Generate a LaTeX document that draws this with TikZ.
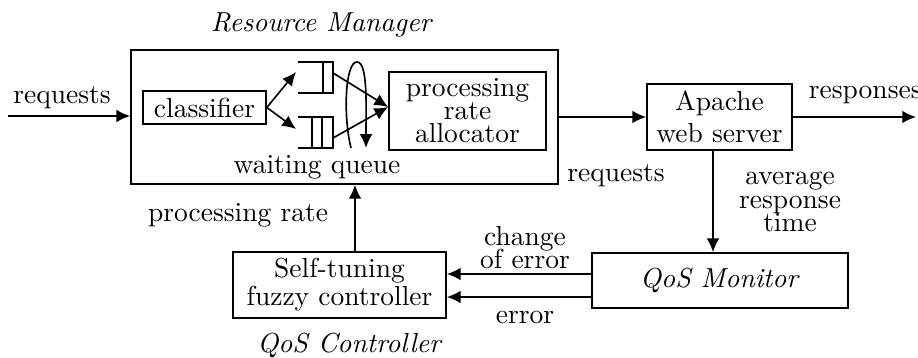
\documentclass[tikz,border=0pt]{standalone}
\usetikzlibrary{arrows.meta}
\newcommand{\pxu}{0.3636pt}
\begin{document}
\begin{tikzpicture}[x=0.3636pt,y=0.3636pt,
  line width=0.6pt,
  arr/.style={-{Latex[length=5pt,width=4.6pt]}},
  blk/.style={draw,rectangle,inner sep=0pt,align=center},
  txt/.style={inner sep=0pt,align=center}]
\useasboundingbox (0,0) rectangle (918,358);

% Resource manager and its parts
\node[blk,minimum width=427*\pxu,minimum height=134*\pxu] (rm) at (344.5,241) {};
\node[txt] (rmlabel) at (322,333) {\textit{Resource Manager}};
\node[blk,minimum width=123*\pxu,minimum height=33*\pxu] (cls) at (204.5,250.5) {classifier};
\node[blk,minimum width=157*\pxu,minimum height=78*\pxu] (alloc) at (467.5,247)
  {processing\\[-3.6pt]rate\\[-3.6pt]allocator};
\node[txt] (wq) at (317,191) {waiting queue};

% two waiting queues
\draw (298,296) -- (333,296) -- (333,265) -- (298,265);
\draw (323,296) -- (323,265);
\draw (298,241) -- (333,241) -- (333,210) -- (298,210);
\draw (312,241) -- (312,210);
\draw (322,241) -- (322,210);
\coordinate (q1in) at (296,286);
\coordinate (q2in) at (296,229);
\coordinate (q1out) at (333,285);
\coordinate (q2out) at (333,220);

\draw[arr] (cls.east) -- (q1in);
\draw[arr] (cls.east) -- (q2in);
\draw[arr] (q1out) -- ([yshift=4*\pxu]alloc.west);
\draw[arr] (q2out) -- ([yshift=4*\pxu]alloc.west);

% round-robin scheduler
\draw[arr] (351,210) .. controls (343,242) and (345,296) .. (357,296)
  .. controls (368,296) and (366,252) .. (366,210);

% web server, monitor and controller
\node[blk,minimum width=145*\pxu,minimum height=66*\pxu] (apache) at (719.5,241)
  {Apache\\[-0.5pt]web server};
\node[blk,minimum width=256*\pxu,minimum height=55*\pxu] (mon) at (720,77.5)
  {\raisebox{2pt}{\textit{QoS Monitor}}};
\node[blk,minimum width=213*\pxu,minimum height=66*\pxu] (ctl) at (339.5,73)
  {Self-tuning\\[-1.8pt]fuzzy controller};
\node[txt] (ctllabel) at (350,13) {\textit{QoS Controller}};

% connectors
\coordinate (in) at (8,242);
\coordinate (out) at (916,241);
\draw[arr] (in) -- (in -| rm.west);
\draw[arr] (apache.west -| rm.east) -- (apache.west);
\draw[arr] (apache.east) -- (out);
\draw[arr] ([xshift=-6.5*\pxu]apache.south) -- ([xshift=-6.5*\pxu]apache.south |- mon.north);
\draw[arr] (mon.west |- 0,84) -- (ctl.east |- 0,84);
\draw[arr] (mon.west |- 0,61) -- (ctl.east |- 0,61);
\draw[arr] ([xshift=15.5*\pxu]ctl.north) -- ([xshift=15.5*\pxu]ctl.north |- rm.south);

% labels
\node[txt] (lreq) at (62,260) {requests};
\node[txt,anchor=west] (lresp) at (808,263) {responses};
\node[txt] (lreq2) at (616,182) {requests};
\node[txt] (lavg) at (790,156) {average\\[-3.6pt]response\\[-3.6pt]time};
\node[txt] (lrate) at (238,143) {processing rate};
\node[txt] (lchg) at (525,110.5) {change\\[-3.6pt]of error};
\node[txt] (lerr) at (525,41) {error};
\end{tikzpicture}
\end{document}
